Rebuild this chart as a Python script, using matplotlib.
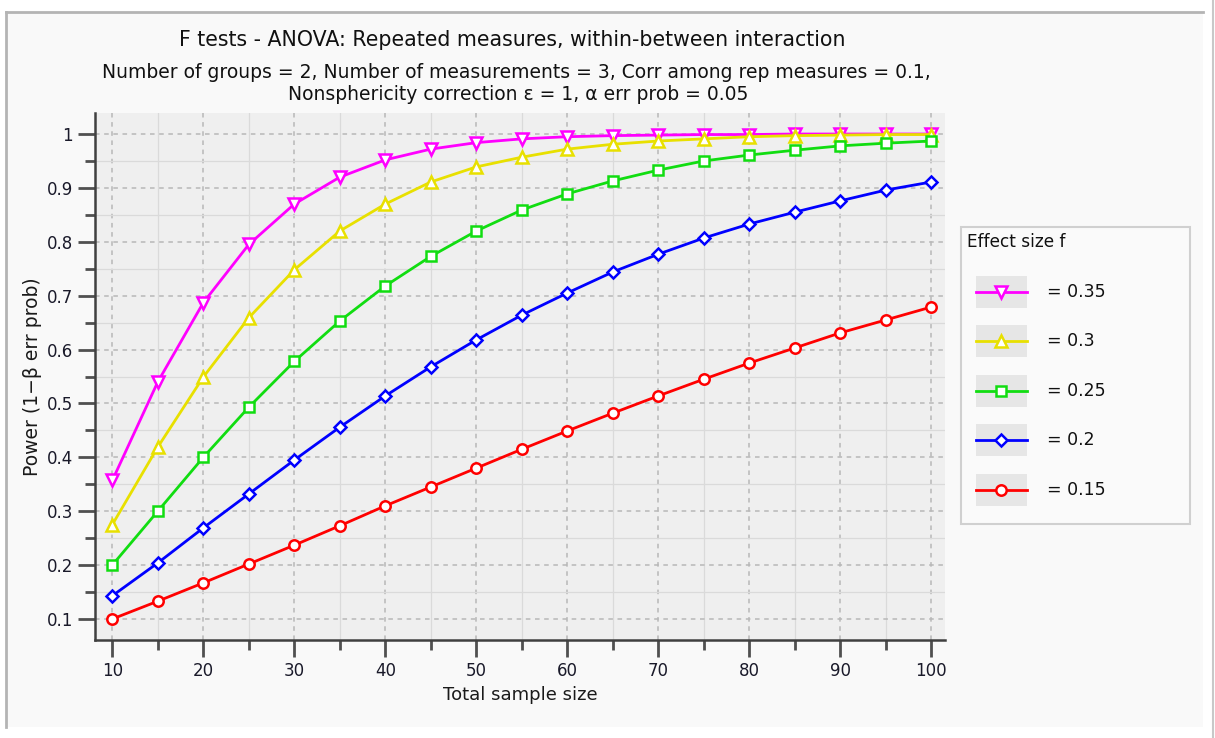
import matplotlib
matplotlib.use("Agg")
import matplotlib.pyplot as plt
from matplotlib.patches import Rectangle
from matplotlib.lines import Line2D
from matplotlib.ticker import MultipleLocator

plt.rcParams['font.family'] = ['DejaVu Sans']

sample_size = [10, 15, 20, 25, 30, 35, 40, 45, 50, 55, 60, 65, 70, 75, 80, 85, 90, 95, 100]

power_035 = [0.357, 0.540, 0.687, 0.795, 0.870, 0.920, 0.952, 0.972, 0.984, 0.991, 0.995,
             0.997, 0.998, 0.999, 0.999, 1.000, 1.000, 1.000, 1.000]
power_030 = [0.275, 0.419, 0.549, 0.659, 0.748, 0.820, 0.870, 0.911, 0.939, 0.957, 0.972,
             0.981, 0.987, 0.991, 0.995, 0.997, 0.998, 0.999, 0.999]
power_025 = [0.200, 0.300, 0.400, 0.493, 0.578, 0.653, 0.718, 0.773, 0.820, 0.859, 0.889,
             0.913, 0.933, 0.950, 0.961, 0.970, 0.978, 0.983, 0.987]
power_020 = [0.143, 0.204, 0.269, 0.332, 0.395, 0.456, 0.514, 0.568, 0.618, 0.664, 0.705,
             0.744, 0.777, 0.807, 0.833, 0.855, 0.876, 0.896, 0.911]
power_015 = [0.100, 0.133, 0.167, 0.202, 0.237, 0.273, 0.310, 0.345, 0.380, 0.415, 0.449,
             0.482, 0.514, 0.545, 0.575, 0.603, 0.631, 0.655, 0.679]

series_labels = ["= 0.35", "= 0.3", "= 0.25", "= 0.2", "= 0.15"]
series_values = [power_035, power_030, power_025, power_020, power_015]
series_colors = ["#ff00ff", "#e8e000", "#11dd11", "#0000ff", "#ff0000"]
series_markers = ["v", "^", "s", "D", "o"]
series_msize = [8, 8, 6.5, 6, 7.5]

x_ticks = [10, 20, 30, 40, 50, 60, 70, 80, 90, 100]
y_ticks = [0.1, 0.2, 0.3, 0.4, 0.5, 0.6, 0.7, 0.8, 0.9, 1.0]
y_ticklabels = ["0.1", "0.2", "0.3", "0.4", "0.5", "0.6", "0.7", "0.8", "0.9", "1"]

W, H = 1215, 738
fig = plt.figure(figsize=(W / 100, H / 100), dpi=100)
fig.patch.set_facecolor("white")

def fx(px):
    return px / W

def fy(py):
    return 1 - py / H

# panel background
fig.patches.append(Rectangle((fx(6), fy(727)), fx(1203) - fx(6), fy(12) - fy(727),
                             transform=fig.transFigure, facecolor="#f9f9f9", edgecolor="none", zorder=-2))
fig.lines.append(Line2D([fx(6), fx(1203)], [fy(12), fy(12)], transform=fig.transFigure,
                        color="#b4b4b4", lw=2, zorder=-1))
fig.lines.append(Line2D([fx(6), fx(6)], [fy(12), fy(727)], transform=fig.transFigure,
                        color="#b4b4b4", lw=2, zorder=-1))
fig.lines.append(Line2D([fx(1213), fx(1213)], [0, 1], transform=fig.transFigure,
                        color="#c8c8c8", lw=1.5, zorder=-1))

ax = fig.add_axes([fx(95), fy(640), fx(945) - fx(95), fy(113) - fy(640)])
ax.set_zorder(1)
ax.set_facecolor("#efefef")

for vals, c, m, ms in zip(series_values, series_colors, series_markers, series_msize):
    ax.plot(sample_size, vals, color=c, lw=2, marker=m, ms=ms, mfc="white", mec=c, mew=1.8,
            zorder=3, clip_on=False)

ax.set_xlim(8.1, 101.5)
ax.set_ylim(0.061, 1.039)
ax.set_xticks(x_ticks)
ax.set_yticks(y_ticks)
ax.set_yticklabels(y_ticklabels)
ax.xaxis.set_minor_locator(MultipleLocator(5))
ax.yaxis.set_minor_locator(MultipleLocator(0.05))

ax.grid(which="major", color="#b8b8b8", linestyle=(0, (3, 3)), lw=1.1, zorder=1)
ax.grid(which="minor", color="#dadada", linestyle="-", lw=0.9, zorder=0.9)
ax.set_axisbelow(True)

for s in ["top", "right"]:
    ax.spines[s].set_visible(False)
for s in ["left", "bottom"]:
    ax.spines[s].set_color("#404040")
    ax.spines[s].set_linewidth(1.8)

ax.tick_params(which="major", length=12, width=2, color="#505050", labelsize=12,
               labelcolor="#1a1a2a", pad=4)
ax.tick_params(which="minor", length=7, width=2, color="#505050")

ax.set_xlabel("Total sample size", fontsize=13, color="#1a1a1a", labelpad=4)
ax.set_ylabel("Power (1\u2212\u03b2 err prob)", fontsize=13.5, color="#1a1a1a", labelpad=3)

fig.text(fx(512), fy(40), "F tests - ANOVA: Repeated measures, within-between interaction",
         ha="center", va="center", fontsize=14.8, color="#111111")
fig.text(fx(516), fy(72), "Number of groups = 2, Number of measurements = 3, Corr among rep measures = 0.1,",
         ha="center", va="center", fontsize=13.5, color="#111111")
fig.text(fx(518), fy(94), "Nonsphericity correction \u03b5 = 1, \u03b1 err prob = 0.05",
         ha="center", va="center", fontsize=13.5, color="#111111")

# legend box
fig.patches.append(Rectangle((fx(961), fy(524)), fx(1190) - fx(961), fy(227) - fy(524),
                             transform=fig.transFigure, facecolor="#fafafa", edgecolor="#d0d0d0",
                             lw=1.5, zorder=2))
fig.text(fx(967), fy(242), "Effect size f", ha="left", va="center", fontsize=12.2,
         color="#111111", zorder=3)
entry_y = [292, 341, 391, 440, 490]
for yy, lab, c, m, ms in zip(entry_y, series_labels, series_colors, series_markers, series_msize):
    fig.patches.append(Rectangle((fx(976), fy(yy + 16)), fx(1027) - fx(976), fy(yy - 16) - fy(yy + 16),
                                 transform=fig.transFigure, facecolor="#e6e6e6", edgecolor="none",
                                 zorder=3))
    fig.lines.append(Line2D([fx(976), fx(1027)], [fy(yy), fy(yy)], transform=fig.transFigure,
                            color=c, lw=2, zorder=4))
    fig.lines.append(Line2D([fx(1001)], [fy(yy)], transform=fig.transFigure, color=c,
                            marker=m, ms=ms, mfc="white", mec=c, mew=1.8, zorder=5))
    fig.text(fx(1047), fy(yy), lab, ha="left", va="center", fontsize=12.5, color="#111111", zorder=4)

fig.savefig("out.png", dpi=100, facecolor=fig.get_facecolor())
